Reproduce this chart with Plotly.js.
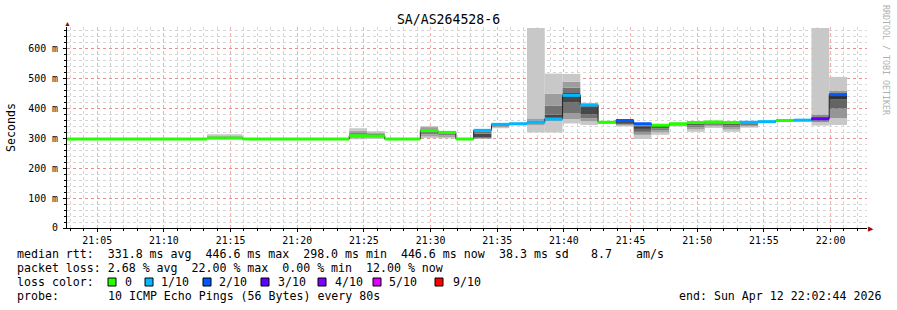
<!DOCTYPE html>
<html><head><meta charset="utf-8">
<script src="https://cdn.plot.ly/plotly-3.0.1.min.js"></script>
<style>html,body{margin:0;padding:0;background:#fff;}#chart{width:897px;height:310px;}</style>
</head><body><div id="chart"></div>
<script>
const chartTitle = 'SA/AS264528-6';
const firstStep = '2026-04-12T21:02:34Z';
const stepSeconds = 80;
const rangeStart = '2026-04-12T21:02:44Z';
const rangeEnd = '2026-04-12T22:02:44Z';

// median RTT per 80 s step (ms)
const medianMs = [298,298,298,298,298,298,298,298, 301,301, 298,298,298,298,298,298,
  309,308, 298,298, 326,320, 298, 327,347,349,354,365,444,412,354,360,349,344,349,353,355,353,354,356,360,361,366,446.6];
// lost pings out of 10 per step
const lossCount = [0,0,0,0,0,0,0,0, 0,0, 0,0,0,0,0,0,
  0,0, 0,0, 0,0, 0, 1,1,1,1,1,1,1,0,2,2,0,0,0,0,0,1,1,0,1,3,2];
// sorted ping RTTs per step (ms), smoke
const flat = [297,297.5,298,298,298,298,298,298.5,299,299.5];
const pings = [flat,flat,flat,flat,flat,flat,flat,flat,
  [298,299,300,301,301,302,303,306,310,314],[298,299,300,301,301,302,303,306,310,314],
  flat,flat,flat,flat,flat,flat,
  [297,300,304,307,309,310,313,318,326,334],
  [298,302,305,307,308,309,311,315,320,324],
  flat,flat,
  [301,306,314,322,326,327,330,334,338,341],
  [300,304,310,316,320,321,322,323,324,325],
  flat,
  [298,299,301,304,308,316,322,326,330],
  [334,337,340,343,346,347,348,349,351],
  [344,346,347,348,349,350,351,352,353],
  [320,345,350,352,354,356,359,365,670],
  [320,358,362,365,366,380,409,449,517],
  [350,365,385,420,444,452,470,490,516],
  [345,357,367,380,395,405,412,416,419],
  [348,350,351,352,353,354,355,356,357,358],
  [340,344,348,352,356,359,361,362],
  [298,312,322,332,338,343,347,349],
  [312,320,328,333,338,342,344,345,346,347],
  [340,342,344,346,348,349,350,351,352,353],
  [322,330,338,344,350,353,354,355,356,357],
  [335,340,345,350,353,355,356,357,358,359],
  [322,330,338,344,350,353,354,355,356,357],
  [336,340,345,350,354,355,356,357,358],
  [352,353,354,355,356,357,358,359,360],
  [356,357,358,359,360,360,361,362,363,364],
  [357,358,359,360,361,362,363,364,365],
  [343,355,360,366,370,380,670],
  [345,368,400,430,445,447,460,506]];

const yTickVals = [0,100,200,300,400,500,600];
const yTickText = ['0','100 m','200 m','300 m','400 m','500 m','600 m'];
const lossLevels = [0,1,2,3,4,5,9];
const lossColors = ['#26ff00','#00b8ff','#0059ff','#5e00ff','#7e00ff','#dd00ff','#ff0000'];
const lossLabels = ['0','1/10','2/10','3/10','4/10','5/10','9/10'];

const statsRtt = ['median rtt:  331.8 ms avg  446.6 ms max  298.0 ms min  446.6 ms now', '38.3 ms sd', '8.7', 'am/s'];
const statsLoss = 'packet loss: 2.68 % avg  22.00 % max  0.00 % min  12.00 % now';
const probeText = ['probe:', '10 ICMP Echo Pings (56 Bytes) every 80s', 'end: Sun Apr 12 22:02:44 2026'];

// ---------- build ----------
const t0 = Date.parse(firstStep), step = stepSeconds*1000;
const starts = medianMs.map((_,k)=> t0 + k*step);
const ends = starts.map(s=> s+step);

// smoke bars
const bx=[], bb=[], by=[], bc=[], bw=[];
pings.forEach((p,k)=>{
  const n=p.length, c=(n-2)/2;
  for(let i=0;i<n-1;i++){
    const d = c>0 ? Math.abs(i-c)/c : 0;
    const g = Math.round(50+150*d);
    bx.push(starts[k]+step/2); bb.push(p[i]); by.push(p[i+1]-p[i]);
    bc.push(`rgb(${g},${g},${g})`); bw.push(step);
  }
});
const traces = [{type:'bar', x:bx, base:bb, y:by, width:bw, marker:{color:bc, line:{width:0}}, hoverinfo:'skip'}];

// black median step line
const mx=[], my=[];
medianMs.forEach((m,k)=>{ mx.push(starts[k], ends[k]); my.push(m,m); });
traces.push({type:'scatter', mode:'lines', x:mx, y:my, line:{color:'#202020', width:1}, hoverinfo:'skip'});

function lossIdx(l){ let idx=0; lossLevels.forEach((v,i)=>{ if(l>=v) idx=i; }); return idx; }
lossColors.forEach((col,ci)=>{
  const x=[], y=[];
  medianMs.forEach((m,k)=>{ if(lossIdx(lossCount[k])===ci){ x.push(starts[k], ends[k], null); y.push(m,m,null);} });
  if(x.length) traces.push({type:'scatter', mode:'lines', x:x, y:y, line:{color:col, width:3}, hoverinfo:'skip', connectgaps:false});
});

// ---------- layout helpers ----------
const L=67, R=867, T=27, B=228;
const px = v => (v-L)/(R-L);
const py = v => (B-v)/(B-T);
const nb = s => s.replace(/ /g,'\u00a0');
const mono = 'DejaVu Sans Mono, monospace';
const annotations = [];
function txt(s, x, y, opts={}){
  annotations.push(Object.assign({text:nb(s), xref:'paper', yref:'paper', x:px(x), y:py(y), xanchor:'left', yanchor:'middle',
    showarrow:false, borderpad:0, font:{family:mono, size:11.6, color:'#000'}}, opts));
}
txt(statsRtt[0], 16, 254); txt(statsRtt[1], 498, 254); txt(statsRtt[2], 590, 254); txt(statsRtt[3], 635, 254);
txt(statsLoss, 16, 268);
txt('loss color:', 16, 282);
const sqX = [108,145,203,261,318,373,435], lbX = [124,160,218,277,334,388,452];
const shapes = [];
lossColors.forEach((c,i)=>{
  shapes.push({type:'rect', xref:'paper', yref:'paper', x0:px(sqX[i]), x1:px(sqX[i]+8), y0:py(286), y1:py(278), fillcolor:c, line:{color:'#000', width:1}});
  txt(lossLabels[i], lbX[i], 282);
});
txt(probeText[0], 16, 296); txt(probeText[1], 107, 296); txt(probeText[2], 678, 296);
// y title
annotations.push({text:'Seconds', xref:'paper', yref:'paper', x:px(11), y:py(127), xanchor:'center', yanchor:'middle', textangle:-90,
  showarrow:false, font:{family:mono, size:11.6, color:'#000'}});
// watermark
annotations.push({text:'RRDTOOL / TOBI OETIKER', xref:'paper', yref:'paper', x:px(886), y:py(60), xanchor:'center', yanchor:'middle', textangle:90,
  showarrow:false, font:{family:mono, size:8.3, color:'#b0b0b0'}});
// axis arrows
annotations.push({text:'▲', xref:'paper', yref:'paper', x:px(67), y:py(23), xanchor:'center', yanchor:'middle', showarrow:false, font:{size:7, color:'#a00000'}});
annotations.push({text:'▶', xref:'paper', yref:'paper', x:px(871), y:py(228), xanchor:'center', yanchor:'middle', showarrow:false, font:{size:7, color:'#a00000'}});

const layout = {
  width:897, height:310, margin:{l:L, r:897-R, t:T, b:310-B, pad:0},
  paper_bgcolor:'#fff', plot_bgcolor:'#fff', showlegend:false, barmode:'overlay',
  title:{text:chartTitle, xref:'container', x:0.5, xanchor:'center', yref:'container', y:1-19/310, yanchor:'middle',
    font:{family:mono, size:13.2, color:'#000'}},
  xaxis:{type:'date', range:[Date.parse(rangeStart), Date.parse(rangeEnd)], tick0:Date.parse('2026-04-12T21:00:00Z'), dtick:300000,
    tickformat:'%H:%M', showgrid:true, gridcolor:'rgba(255,60,60,0.45)', griddash:'dot', gridwidth:1,
    ticks:'outside', ticklen:3, tickcolor:'#000', showline:true, linecolor:'#000', linewidth:1, zeroline:false,
    tickfont:{family:mono, size:9.9, color:'#000'}, fixedrange:true,
    minor:{dtick:60000, showgrid:true, gridcolor:'rgba(150,150,150,0.4)', griddash:'dot', ticks:'outside', ticklen:2, tickcolor:'#000'}},
  yaxis:{range:[0,673], tickvals:yTickVals, ticktext:yTickText, showgrid:true, gridcolor:'rgba(255,60,60,0.45)', griddash:'dot',
    ticks:'outside', ticklen:3, tickcolor:'#000', showline:true, linecolor:'#000', linewidth:1, zeroline:false,
    ticklabelstandoff:3,
    tickfont:{family:mono, size:9.9, color:'#000'}, fixedrange:true,
    minor:{dtick:20, showgrid:true, gridcolor:'rgba(150,150,150,0.4)', griddash:'dot', ticks:'outside', ticklen:2, tickcolor:'#000'}},
  annotations:annotations, shapes:shapes
};
Plotly.newPlot('chart', traces, layout, {staticPlot:true, displayModeBar:false});
</script></body></html>
